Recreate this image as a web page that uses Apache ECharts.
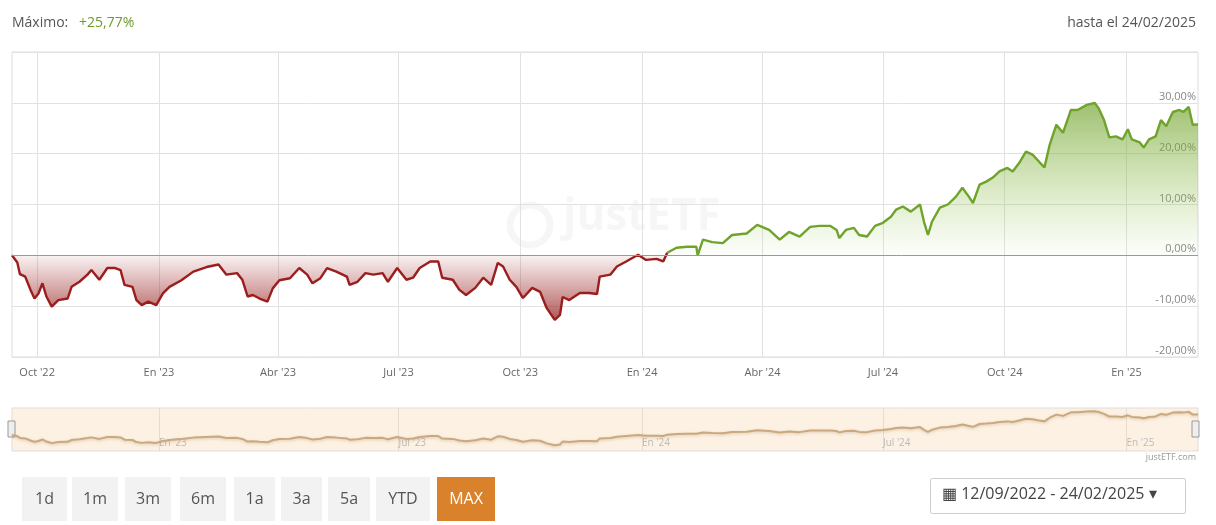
<!DOCTYPE html>
<html><head><meta charset="utf-8">
<script src="https://cdn.jsdelivr.net/npm/echarts@6/dist/echarts.min.js"></script>
<style>html,body{margin:0;padding:0;background:#fff}#c{width:1216px;height:525px}</style>
</head><body><div id="c"></div>
<script>
// days since 12/09/2022
const dayOffsets = [0,1,4,6,10,14,17,20,23,26,30,35,42,45,51,57,60,66,72,78,82,85,91,94,98,103,109,114,119,128,137,147,156,162,170,174,178,182,187,193,197,202,210,217,223,227,233,238,245,253,255,261,267,273,280,284,291,
298,303,308,316,322,325,333,338,343,350,356,362,367,371,376,381,386,393,399,404,410,414,416,421,429,436,442,444,452,457,464,473,479,487,492,495,502,510,517,518,522,529,537,544,555,563,572,580,587,595,603,610,618,623,625,630,636,640,646,652,658,664,668,673,679,686,689,692,695,701,707,713,718,723,726,731,736,741,746,752,756,761,766,771,776,780,784,789,794,800,805,812,818,821,825,829,834,839,843,846,852,855,859,864,868,872,877,882,885,889,892,896];
const returns = [0,0.1,-1.4,-3.7,-4.2,-6.8,-8.5,-7.5,-5.5,-8.1,-10.1,-8.8,-8.5,-6.2,-5.2,-3.8,-2.9,-4.8,-2.5,-2.5,-2.9,-5.8,-6.2,-8.8,-9.8,-9.1,-9.8,-7.5,-6.2,-4.9,-3.2,-2.3,-1.8,-3.8,-3.5,-4.8,-8.1,-7.8,-8.5,-9.1,-6.5,-4.9,-4.5,-2.5,-3.8,-5.5,-4.5,-2.5,-3.2,-4.2,-5.8,-5.2,-3.5,-3.8,-3.5,-5.2,-2.5,
-4.8,-4.4,-2.5,-1.2,-1.2,-4.4,-4.8,-6.8,-7.8,-6.4,-4.4,-5.8,-1.5,-2.2,-4.8,-6.2,-8.4,-6.4,-7.2,-10.4,-12.7,-11.7,-8.2,-8.8,-7.4,-7.4,-7.6,-4.2,-3.8,-2.2,-1.2,0.1,-0.9,-0.7,-1.2,0.5,1.5,1.7,1.7,0,3.1,2.6,2.4,4.0,4.3,6.0,5.0,3.1,4.6,3.7,5.6,5.8,5.8,5.0,3.4,5.0,5.4,4.0,3.7,5.8,6.4,7.6,9.0,9.6,8.6,10.0,6.6,4.0,6.6,9.4,10.0,11.5,13.3,11.5,10.3,13.9,14.5,15.3,16.5,17.2,16.5,18.2,20.4,19.8,18.4,17.3,21.8,25.7,24.1,28.6,28.6,29.6,30.0,28.9,26.6,23.2,23.4,22.8,24.8,22.8,22.2,21.2,22.8,23.4,26.6,25.4,28.2,28.6,28.2,29.2,25.7,25.77];
const splitDay = 495;
const xTickDates = ['2022-10-01','2023-01-01','2023-04-01','2023-07-01','2023-10-01','2024-01-01','2024-04-01','2024-07-01','2024-10-01','2025-01-01'];
const xTickLabels = ["Oct '22","En '23","Abr '23","Jul '23","Oct '23","En '24","Abr '24","Jul '24","Oct '24","En '25"];
const navTickDates = ['2023-01-01','2023-07-01','2024-01-01','2024-07-01','2025-01-01'];
const navTickLabels = ["En '23","Jul '23","En '24","Jul '24","En '25"];
const yTicks = [-20,-10,0,10,20,30];

const start = Date.UTC(2022,8,12), DAY = 86400000;
const pts = dayOffsets.map((d,i)=>[start+d*DAY, returns[i]]);
const red = pts.filter(p=>p[0] <= start+splitDay*DAY);
const green = pts.filter(p=>p[0] >= start+splitDay*DAY);
const ts = s => Date.parse(s+'T00:00:00Z');
const lblMap = {}; xTickDates.forEach((d,i)=>lblMap[ts(d)] = xTickLabels[i]);
const navMap = {}; navTickDates.forEach((d,i)=>navMap[ts(d)] = navTickLabels[i]);
const xmin = start, xmax = start+896*DAY;

const chart = echarts.init(document.getElementById('c'));
const btns = ['1d','1m','3m','6m','1a','3a','5a','YTD','MAX'];
const bx = [[22,45],[72,46],[125,46],[180,46],[234,41],[281,41],[328,42],[376,54],[437,58]];
const graphics = [
  {type:'text',left:12,top:16,style:{text:'Máximo:',font:'14px "Open Sans"',fill:'#555'}},
  {type:'text',left:79,top:16,style:{text:'+25,77%',font:'14px "Open Sans"',fill:'#6b9d2b'}},
  {type:'text',right:20,top:16,style:{text:'hasta el 24/02/2025',font:'14px "Open Sans"',fill:'#555'}},
  {type:'text',left:563,top:195,z:0,style:{text:'justETF',font:'bold 44px "Open Sans"',fill:'rgba(0,0,0,0.035)'}},
  {type:'circle',shape:{cx:530,cy:225,r:20},z:0,style:{fill:'none',stroke:'rgba(0,0,0,0.035)',lineWidth:7}},
  {type:'text',right:20,top:453,style:{text:'justETF.com',font:'9px "Open Sans"',fill:'#999'}},
  {type:'rect',shape:{x:8,y:421,width:7,height:16},style:{fill:'#eee',stroke:'#999'}},
  {type:'rect',shape:{x:1192,y:421,width:7,height:16},style:{fill:'#eee',stroke:'#999'}},
  {type:'rect',shape:{x:930.5,y:478.5,width:255,height:35,r:2},style:{fill:'#fff',stroke:'#ccc'}},
  {type:'text',left:942,top:486,style:{text:'▦ 12/09/2022 - 24/02/2025 ▾',font:'16px "Open Sans"',fill:'#444'}}
];
btns.forEach((b,i)=>{
  const [x,w]=bx[i]; const act=b==='MAX';
  graphics.push({type:'rect',shape:{x:x,y:477,width:w,height:44},style:{fill:act?'#d9822b':'#f2f2f2'}});
  graphics.push({type:'text',x:x+w/2,y:499,style:{text:b,font:'16px "Open Sans"',fill:act?'#fff':'#555',align:'center',verticalAlign:'middle'}});
});

chart.setOption({
  animation:false,
  textStyle:{fontFamily:'Open Sans'},
  graphic:graphics,
  grid:[{left:12,right:18,top:52,bottom:168,show:true,borderColor:'#ddd',borderWidth:1},
        {left:12,right:18,top:408,height:43,show:true,backgroundColor:'#fdf1e3',borderColor:'#ddd',borderWidth:1}],
  xAxis:[{type:'value',gridIndex:0,min:xmin,max:xmax,
    axisLine:{show:false},
    axisTick:{show:false,customValues:xTickDates.map(ts)},
    splitLine:{show:true,lineStyle:{color:'#e2e2e2'}},
    axisLabel:{customValues:xTickDates.map(ts),formatter:v=>lblMap[v]||'',color:'#666',fontSize:11,margin:10,showMinLabel:true,showMaxLabel:true}},
   {type:'value',gridIndex:1,min:xmin,max:xmax,
    axisLine:{show:false},axisTick:{show:false,customValues:navTickDates.map(ts)},
    splitLine:{show:true,lineStyle:{color:'#eadccb'}},
    axisLabel:{inside:true,customValues:navTickDates.map(ts),formatter:v=>navMap[v]||'',color:'#bbb',fontSize:10,margin:3,align:'left'}}],
  yAxis:[{type:'value',gridIndex:0,position:'right',min:-20,max:40,interval:10,
    axisLine:{show:false},axisTick:{show:false},
    splitLine:{lineStyle:{color:'#e2e2e2'}},
    axisLabel:{inside:true,margin:2,verticalAlign:'bottom',lineHeight:12,color:'#888',fontSize:11,
      formatter:v=>yTicks.includes(v)?v.toFixed(2).replace('.',',')+'%':''}},
   {type:'value',gridIndex:1,min:-20,max:34,show:false}],
  series:[
    {type:'line',data:red,xAxisIndex:0,yAxisIndex:0,symbol:'none',lineStyle:{color:'#9b1d1d',width:2.4},
     markLine:{silent:true,symbol:'none',label:{show:false},lineStyle:{color:'#999',type:'solid',width:1},data:[{yAxis:0}]},
     areaStyle:{origin:0,color:new echarts.graphic.LinearGradient(0,0,0,1,[{offset:0,color:'rgba(160,40,40,0.05)'},{offset:1,color:'rgba(140,15,15,1)'}])}},
    {type:'line',data:green,xAxisIndex:0,yAxisIndex:0,symbol:'none',lineStyle:{color:'#6fa32c',width:2.4},
     areaStyle:{origin:0,color:new echarts.graphic.LinearGradient(0,0,0,1,[{offset:0,color:'rgba(110,160,40,0.95)'},{offset:1,color:'rgba(150,200,80,0.03)'}])}},
    {type:'line',data:pts,xAxisIndex:1,yAxisIndex:1,symbol:'none',lineStyle:{color:'#c9a97d',width:2,shadowColor:'rgba(150,110,60,0.3)',shadowBlur:3,shadowOffsetY:1}}
  ]
});
</script></body></html>
